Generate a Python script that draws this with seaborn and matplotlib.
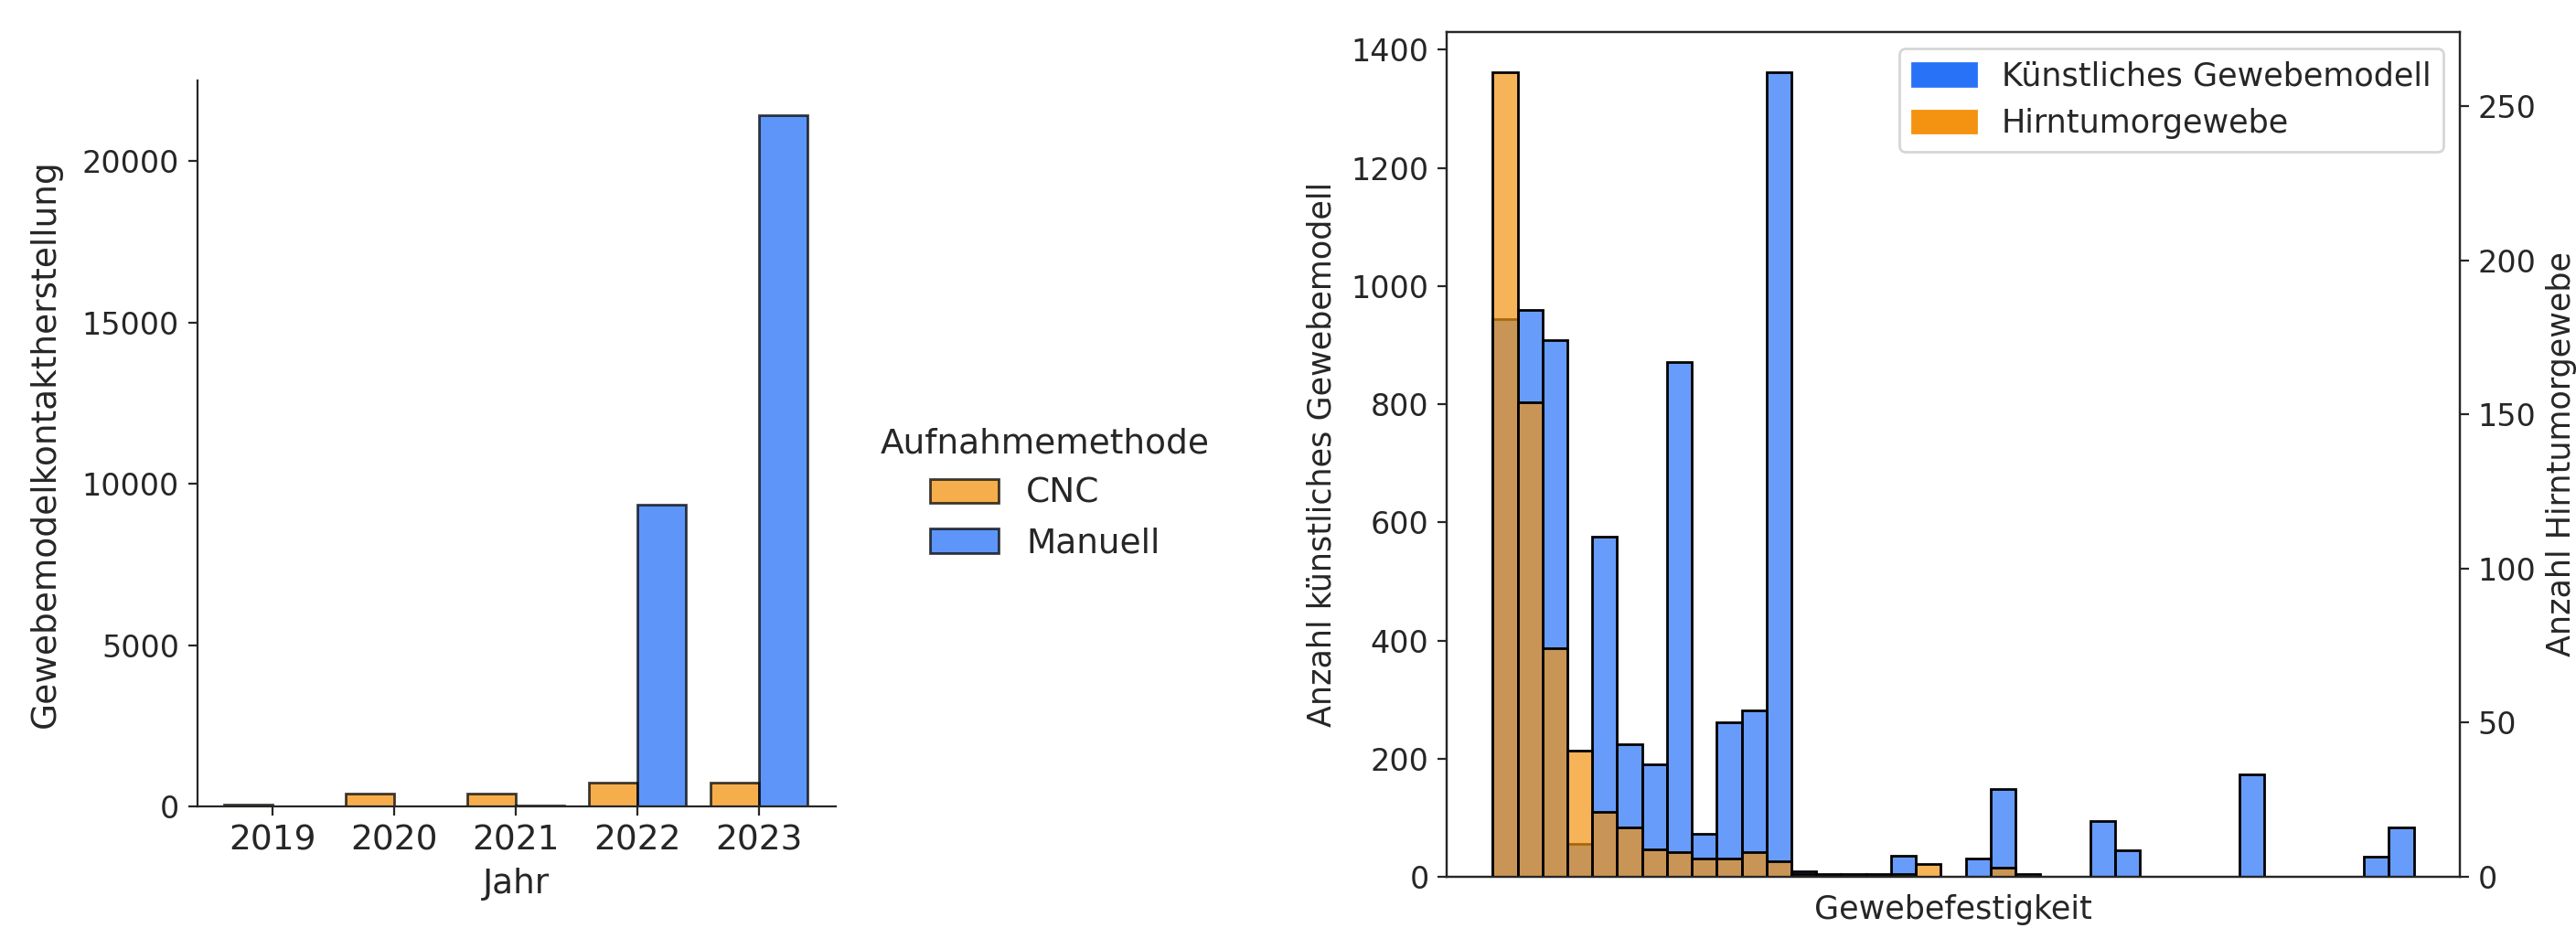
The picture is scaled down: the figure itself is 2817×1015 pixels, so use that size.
import matplotlib
matplotlib.use('Agg')
import matplotlib.pyplot as plt
from matplotlib.patches import Patch
import numpy as np
import pandas as pd
import seaborn as sns

# left chart: contacts per year and method
years = ['2019', '2020', '2021', '2022', '2023']
methods = ['CNC', 'Manuell']
cnc_counts = [50, 390, 390, 748, 748]
manual_counts = [10, 0, 30, 9340, 21430]

# right chart: histogram counts per firmness bin (37 bins, no tick labels)
model_counts = [944, 959, 908, 56, 575, 224, 190, 871, 72, 262, 282, 1362, 10, 2, 2, 2,
                35, 0, 0, 31, 149, 0, 0, 0, 94, 45, 0, 0, 0, 0, 174, 0, 0, 0, 0, 34, 83]
tumor_counts = [261, 154, 74, 41, 21, 16, 9, 8, 6, 6, 8, 5, 1, 1, 1, 1,
                1, 4, 0, 0, 3, 1, 0, 0, 0, 0, 0, 0, 0, 0, 0, 0, 0, 0, 0, 0, 0]

blue = '#2872F8'
orange = '#F39311'

sns.set_style('ticks')
plt.rcParams['font.family'] = ['DejaVu Sans']
plt.rcParams['font.size'] = 13.5

df = pd.DataFrame({
    'Jahr': years * 2,
    'Aufnahmemethode': ['CNC'] * 5 + ['Manuell'] * 5,
    'Anzahl': cnc_counts + manual_counts,
})

n_bins = len(model_counts)
hist_df = pd.DataFrame({
    'bin': np.arange(n_bins) + 0.5,
    'modell': model_counts,
    'tumor': tumor_counts,
})

fig = plt.figure(figsize=(2817 / 200, 1015 / 200), dpi=200)
ax1 = fig.add_axes([0.0765, 0.131, 0.2481, 0.7823])
ax2 = fig.add_axes([0.5616, 0.0552, 0.3933, 0.9103])

# left: grouped bars per year
sns.barplot(data=df, x='Jahr', y='Anzahl', hue='Aufnahmemethode', hue_order=methods,
            palette=[orange, blue], saturation=1, alpha=0.75,
            edgecolor='black', linewidth=1, ax=ax1)
ax1.set_xlim(-0.62, 4.635)
ax1.set_xlabel('Jahr')
ax1.set_ylabel('Gewebemodelkontaktherstellung', labelpad=8)
ax1.tick_params(axis='y', labelsize=12)
sns.despine(ax=ax1)
sns.move_legend(ax1, 'center left', bbox_to_anchor=(1.021, 0.431), frameon=False,
                title='Aufnahmemethode')

# right: two histograms on twin y axes
sns.histplot(data=hist_df, x='bin', weights='modell', binwidth=1, binrange=(0, n_bins),
             color=blue, alpha=0.7, edgecolor='black', linewidth=1, ax=ax2)
ax2.set_xlabel('Gewebefestigkeit', fontsize=12.6, labelpad=7)
ax2.set_ylabel('Anzahl künstliches Gewebemodell', fontsize=12.6, labelpad=5.5)
ax2.tick_params(labelsize=12)

ax3 = ax2.twinx()
sns.histplot(data=hist_df, x='bin', weights='tumor', binwidth=1, binrange=(0, n_bins),
             color=orange, alpha=0.7, edgecolor='black', linewidth=1, ax=ax3)
ax3.set_ylabel('Anzahl Hirntumorgewebe', fontsize=12.6)
ax3.tick_params(labelsize=12)
ax2.set_xlim(-1.85, n_bins + 1.85)
ax2.set_xticks([])

ax3.legend(handles=[Patch(color=blue, label='Künstliches Gewebemodell'),
                    Patch(color=orange, label='Hirntumorgewebe')],
           loc='upper right', fontsize=12.6)

fig.savefig('out.png', dpi=200)
